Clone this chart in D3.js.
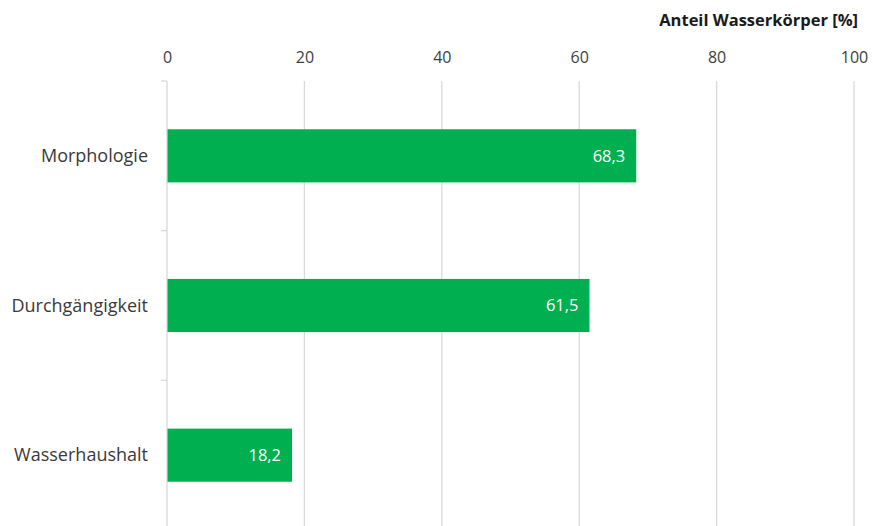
<!DOCTYPE html>
<html>
<head>
<meta charset="utf-8">
<script src="https://cdn.jsdelivr.net/npm/d3@7"></script>
<style>
  body { margin: 0; background: #fff; }
  text { font-family: "Open Sans", sans-serif; }
</style>
</head>
<body>
<div id="chart"></div>
<script>
var categories = ["Morphologie", "Durchgängigkeit", "Wasserhaushalt"];
var values = [68.3, 61.5, 18.2];
var xTicks = [0, 20, 40, 60, 80, 100];
var axisTitle = "Anteil Wasserkörper [%]";

var width = 873, height = 526;
var margin = {top: 81, left: 167, right: 19};

var svg = d3.select("#chart")
  .append("svg")
    .attr("width", width)
    .attr("height", height);

var x = d3.scaleLinear()
  .domain([0, 100])
  .range([margin.left, width - margin.right]);

var y = d3.scaleBand()
  .domain(categories)
  .range([margin.top, margin.top + 449])
  .paddingInner(0.645)
  .paddingOuter(0.3225);

// gridlines
svg.append("g")
  .selectAll("line")
  .data(xTicks.slice(1))
  .enter()
  .append("line")
    .attr("x1", function (d) { return x(d); })
    .attr("x2", function (d) { return x(d); })
    .attr("y1", margin.top)
    .attr("y2", height)
    .attr("stroke", "#d9d9d9")
    .attr("stroke-width", 1.3);

// left axis with category separators
var sepY = [0, 1, 2, 3].map(function (i) { return margin.top + i * y.step(); });
svg.append("line")
  .attr("x1", x(0)).attr("x2", x(0))
  .attr("y1", margin.top).attr("y2", height)
  .attr("stroke", "#d9d9d9")
  .attr("stroke-width", 1.3);
svg.append("g")
  .selectAll("line")
  .data(sepY)
  .enter()
  .append("line")
    .attr("x1", x(0) - 6).attr("x2", x(0))
    .attr("y1", function (d) { return d; })
    .attr("y2", function (d) { return d; })
    .attr("stroke", "#d9d9d9")
    .attr("stroke-width", 1.3);

// x tick labels at top
svg.append("g")
  .attr("transform", "translate(0,63)")
  .call(d3.axisTop(x).tickValues(xTicks).tickSize(0).tickPadding(0))
  .call(function (g) { g.select(".domain").remove(); })
  .selectAll("text")
    .style("font-family", "'Open Sans', sans-serif")
    .style("font-size", "16px")
    .attr("fill", "#404040");

// category labels
svg.append("g")
  .selectAll("text")
  .data(categories)
  .enter()
  .append("text")
    .attr("x", margin.left - 19)
    .attr("y", function (d) { return y(d) + y.bandwidth() / 2; })
    .attr("dy", "0.35em")
    .attr("text-anchor", "end")
    .style("font-size", "18px")
    .attr("fill", "#3a3a3a")
    .text(function (d) { return d; });

// bars
svg.append("g")
  .selectAll("rect")
  .data(values)
  .enter()
  .append("rect")
    .attr("x", x(0) + 0.5)
    .attr("y", function (d, i) { return y(categories[i]); })
    .attr("width", function (d) { return x(d) - x(0) - 0.5; })
    .attr("height", y.bandwidth())
    .attr("fill", "#00b050");

// value labels
svg.append("g")
  .selectAll("text")
  .data(values)
  .enter()
  .append("text")
    .attr("x", function (d) { return x(d) - 11; })
    .attr("y", function (d, i) { return y(categories[i]) + y.bandwidth() / 2; })
    .attr("dy", "0.35em")
    .attr("text-anchor", "end")
    .style("font-size", "16.5px")
    .attr("fill", "#ffffff")
    .text(function (d) { return String(d).replace(".", ","); });

// axis title
svg.append("text")
  .attr("x", 858)
  .attr("y", 26)
  .attr("text-anchor", "end")
  .style("font-size", "16.5px")
  .style("font-weight", "bold")
  .attr("fill", "#1a1a1a")
  .text(axisTitle);
</script>
</body>
</html>
